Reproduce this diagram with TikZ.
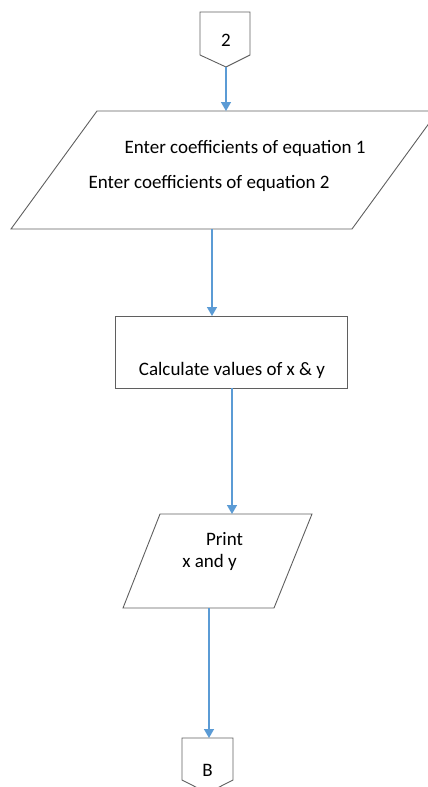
\documentclass[tikz,border=0pt]{standalone}
\usepackage{fontspec}
\setmainfont{Carlito}
\usepackage{xcolor}
\usepackage{tikz}
\usetikzlibrary{shapes,arrows,positioning,calc,arrows.meta}
\definecolor{boxgray}{RGB}{95,95,95}
\definecolor{flowblue}{RGB}{91,155,213}
\tikzset{
    box/.style={draw=boxgray, line width=0.9pt},
    flow/.style={draw=flowblue, line width=1.4pt, -{Triangle[width=10pt,length=9pt]}},
    txt/.style={font=\fontsize{19}{22}\selectfont, inner sep=0pt}
}

\begin{document}
\begin{tikzpicture}[x=1pt,y=-1pt]
    \useasboundingbox (0,0) rectangle (428,787);
    \clip (0,0) rectangle (428,787);
    % connector 2
    \draw[box] (200,12) -- (250,12) -- (250,55) -- (226,67) -- (200,55) -- cycle;
    \node[txt] (conA) at (226,40) {2};
    \coordinate (conAout) at (226,67);
    % input
    \draw[box] (97,111) -- (438,111) -- (352,229) -- (11,229) -- cycle;
    \node[txt] (inA) at (245,148) {Enter coefficients of equation 1};
    \node[txt] (inB) at (209,183) {Enter coefficients of equation 2};
    \coordinate (inTop) at (226,111);
    \coordinate (inBot) at (212,229);
    % process
    \draw[box] (115,316) rectangle (347,388);
    \node[txt] (calc) at (232,370) {Calculate values of x \& y};
    \coordinate (calcTop) at (212,316);
    \coordinate (calcBot) at (232,388);
    % output
    \draw[box] (160,514) -- (312,514) -- (274,608) -- (123,608) -- cycle;
    \node[txt] (prA) at (224.5,539) {Print};
    \node[txt] (prB) at (209.5,562) {x and y};
    \coordinate (prTop) at (232,514);
    \coordinate (prBot) at (209,608);
    % connector B
    \draw[box] (182,738) -- (233,738) -- (233,780) -- (207.5,793) -- (182,780) -- cycle;
    \node[txt] (conB) at (207.5,770) {B};
    \coordinate (conBin) at (209,738);
    % arrows
    \draw[flow] (conAout) -- (inTop);
    \draw[flow] (inBot) -- (calcTop);
    \draw[flow] (calcBot) -- (prTop);
    \draw[flow] (prBot) -- (conBin);
\end{tikzpicture}
\end{document}
